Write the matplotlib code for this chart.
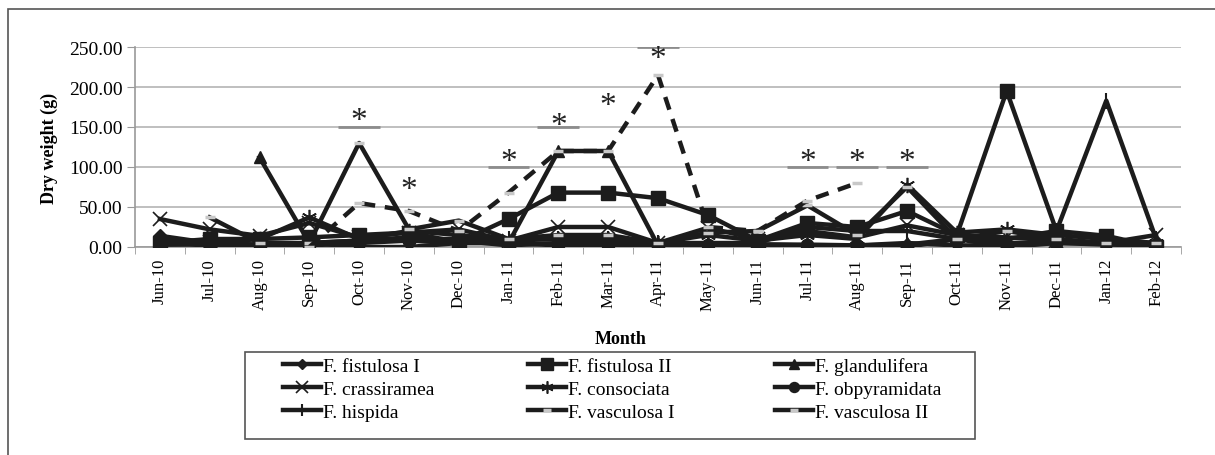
import numpy as np
import matplotlib
matplotlib.use('Agg')
import matplotlib.pyplot as plt
from matplotlib.lines import Line2D
from matplotlib.patches import Rectangle

plt.rcParams['font.family'] = ['Liberation Serif', 'DejaVu Serif']

nan = np.nan
months = ['Jun-10', 'Jul-10', 'Aug-10', 'Sep-10', 'Oct-10', 'Nov-10', 'Dec-10',
          'Jan-11', 'Feb-11', 'Mar-11', 'Apr-11', 'May-11', 'Jun-11', 'Jul-11',
          'Aug-11', 'Sep-11', 'Oct-11', 'Nov-11', 'Dec-11', 'Jan-12', 'Feb-12']

fistulosa_1 = [14, 5, 3, 5, 8, 12, 8, 2, 5, 5, 3, 2, 3, 3, 2, 3, 10, 5, 5, 5, 5]
fistulosa_2 = [5, 10, 10, 12, 15, 18, 6, 35, 68, 68, 61, 40, 8, 30, 25, 45, 15, 195, 20, 14, 0]
glandulifera = [nan, nan, 112, 5, 0, 0, 5, 5, 120, 120, 2, 0, 3, 2, 2, 5, 2, 2, 5, 3, 2]
crassiramea = [35, 22, 14, 30, 12, 18, 22, 8, 25, 25, 5, 24, 10, 20, 12, 27, 15, 12, 8, 5, 15]
consociata = [3, 5, 10, 37, 10, 20, 15, 8, 10, 10, 5, 15, 8, 15, 10, 78, 18, 22, 15, 10, 5]
obpyramidata = [10, 0, 2, 2, 5, 8, 5, 5, 2, 2, 2, 2, 3, 2, 0, 0, 10, 0, 5, 5, 3]
hispida = [3, 3, 3, 5, 8, 10, 10, 10, 10, 10, 5, 5, 5, 25, 20, 20, 10, 10, 20, 183, 10]
vasculosa_1 = [nan, 37, 5, 5, 130, 22, 33, 10, 15, 15, 5, 18, 20, 52, 15, 75, 10, 20, 10, 5, 5]
vasculosa_2 = [nan, nan, nan, 0, 55, 45, 20, 68, 120, 120, 215, 25, 20, 58, 80,
               nan, nan, nan, nan, nan, nan]

# significance marks: month, height of the asterisk, level of the bar (None = no bar)
star_months = ['Oct-10', 'Nov-10', 'Jan-11', 'Feb-11', 'Mar-11', 'Apr-11', 'Jul-11', 'Aug-11', 'Sep-11']
star_heights = [158, 72, 106, 152, 176, 235, 106, 106, 106]
star_bars = [150, None, 100, 150, None, 250, 100, 100, 100]

series = [
    ('F. fistulosa I', fistulosa_1, dict(marker='D', ms=7)),
    ('F. fistulosa II', fistulosa_2, dict(marker='s', ms=10)),
    ('F. glandulifera', glandulifera, dict(marker='^', ms=9)),
    ('F. crassiramea', crassiramea, dict(marker='x', ms=10, mew=1.2)),
    ('F. consociata', consociata, dict(marker=(6, 2, 0), ms=11, mew=1.2)),
    ('F. obpyramidata', obpyramidata, dict(marker='o', ms=9)),
    ('F. hispida', hispida, dict(marker='|', ms=11, mew=1.5)),
    ('F. vasculosa I', vasculosa_1, dict(marker='_', ms=7, mew=2.5, mec='#c8c8c8')),
    ('F. vasculosa II', vasculosa_2, dict(marker='_', ms=7, mew=2.5, mec='#c8c8c8',
                                          ls=(0, (3, 2.2)))),
]

fig = plt.figure(figsize=(12.15, 4.56), dpi=100)
ax = fig.add_axes([135 / 1215, 1 - 248 / 456, (1181 - 135) / 1215, 200 / 456])

x = np.arange(len(months))
dark = '#1c1c1c'
for name, vals, st in series:
    st = dict(st)
    ls = st.pop('ls', '-')
    ax.plot(x, vals, color=dark, lw=3.2, ls=ls, mfc=dark, mec=st.pop('mec', dark),
            zorder=3, **st)

for m, h, b in zip(star_months, star_heights, star_bars):
    i = months.index(m)
    if b is not None:
        ax.plot([i - 0.42, i + 0.42], [b, b], color='#8c8c8c', lw=2, zorder=1.5,
                solid_capstyle='butt')
    ax.text(i, h, '*', ha='center', va='center', fontsize=24, color='#222222', zorder=4)

ax.set_xlim(-0.5, len(months) - 0.5)
ax.set_ylim(0, 250)
ax.set_yticks(np.arange(0, 251, 50))
ax.set_yticklabels(['%.2f' % v for v in np.arange(0, 251, 50)], fontsize=14)
ax.set_xticks(x)
ax.set_xticklabels(months, rotation=90, fontsize=12)
ax.set_xticks(np.arange(-0.5, len(months), 1), minor=True)
ax.tick_params(axis='x', which='major', length=0, pad=8)
ax.tick_params(axis='x', which='minor', length=5, color='#999999', direction='out')
ax.tick_params(axis='y', length=6, color='#999999', pad=3)
ax.yaxis.grid(True, color='#b4b4b4', lw=1.2)
ax.set_axisbelow(True)
for s in ['top', 'right']:
    ax.spines[s].set_visible(False)
for s in ['left', 'bottom']:
    ax.spines[s].set_color('#999999')
    ax.spines[s].set_linewidth(1.2)

ax.set_ylabel('Dry weight (g)', fontsize=13, fontweight='bold', labelpad=8)
ax.set_xlabel('Month', fontsize=13, fontweight='bold')
ax.xaxis.set_label_coords((621 - 135) / 1046, -(340 - 248) / 200)
ax.xaxis.label.set_verticalalignment('center')

# legend: three rows of three, drawn as three one-column legends inside one box
handles = []
for name, vals, st in series:
    st = dict(st)
    st.pop('ls', None)
    st['ms'] = st['ms'] * 0.8
    handles.append(Line2D([], [], color=dark, lw=3.2, mfc=dark,
                          mec=st.pop('mec', dark), **st))
labels = [s[0] for s in series]
col_x = [283, 528, 775]
for c in range(3):
    idx = [c, c + 3, c + 6]
    fig.legend([handles[i] for i in idx], [labels[i] for i in idx], loc='upper left',
               bbox_to_anchor=(col_x[c] / 1215, 1 - 358 / 456), frameon=False,
               fontsize=14, handlelength=1.95, handletextpad=0.1, borderpad=0,
               labelspacing=0.28, borderaxespad=0)

box = Rectangle((245 / 1215, 1 - 440 / 456), 730 / 1215, 87 / 456,
                transform=fig.transFigure, fill=False, edgecolor='#555555', lw=1.2)
fig.add_artist(box)

frame = Rectangle((8 / 1215, -0.1), 1.2, 1.1 - 10 / 456, transform=fig.transFigure,
                  fill=False, edgecolor='#555555', lw=1.2)
fig.add_artist(frame)

fig.savefig('out.png', dpi=100)
